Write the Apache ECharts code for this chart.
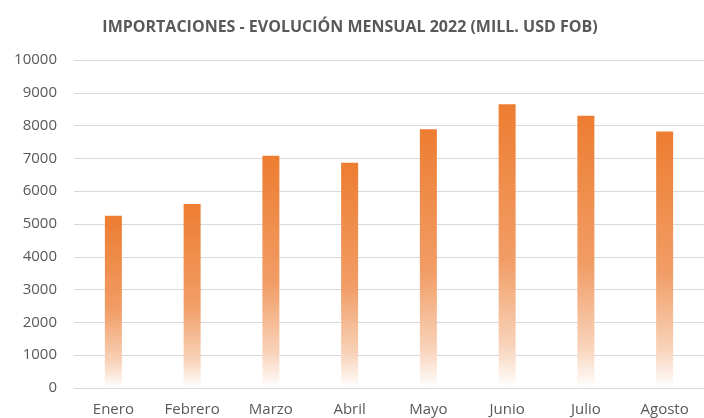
<!DOCTYPE html>
<html>
<head>
<meta charset="utf-8">
<script src="https://cdn.jsdelivr.net/npm/echarts@6/dist/echarts.min.js"></script>
<style>
html,body{margin:0;padding:0;background:#fff;}
#chart{width:704px;height:418px;}
</style>
</head>
<body>
<div id="chart"></div>
<script>
var titleText = 'IMPORTACIONES - EVOLUCIÓN MENSUAL 2022 (MILL. USD FOB)';
var categories = ['Enero','Febrero','Marzo','Abril','Mayo','Junio','Julio','Agosto'];
var values = [5250, 5610, 7080, 6870, 7890, 8650, 8300, 7820];
var yMin = 0, yMax = 10000, yInterval = 1000;

var chart = echarts.init(document.getElementById('chart'));
var font = '"Open Sans", "Liberation Sans", sans-serif';
chart.setOption({
  animation: false,
  title: {
    text: titleText,
    left: 345, top: 14, textAlign: 'center',
    textStyle: {fontFamily: font, fontSize: 16, fontWeight: 'bold', color: '#595959'}
  },
  grid: {left: 74, right: -10, top: 60, bottom: 30, containLabel: false},
  xAxis: {
    type: 'category', data: categories,
    axisLine: {show: true, lineStyle: {color: '#d9d9d9', width: 1}},
    axisTick: {show: false},
    axisLabel: {color: '#595959', fontFamily: font, fontSize: 15, margin: 14}
  },
  yAxis: {
    type: 'value', min: yMin, max: yMax, interval: yInterval,
    axisLine: {show: false}, axisTick: {show: false},
    splitLine: {lineStyle: {color: '#d9d9d9', width: 1}},
    axisLabel: {color: '#595959', fontFamily: font, fontSize: 15, margin: 17,
      formatter: function (v) { return String(v); }}
  },
  series: [{
    type: 'bar', data: values, barWidth: 17,
    itemStyle: {
      color: new echarts.graphic.LinearGradient(0, 0, 0, 1, [
        {offset: 0, color: '#ED7D31'},
        {offset: 0.55, color: '#F19D66'},
        {offset: 0.85, color: '#F8D3BA'},
        {offset: 1, color: '#FFFFFF'}
      ])
    }
  }]
});
</script>
</body>
</html>
